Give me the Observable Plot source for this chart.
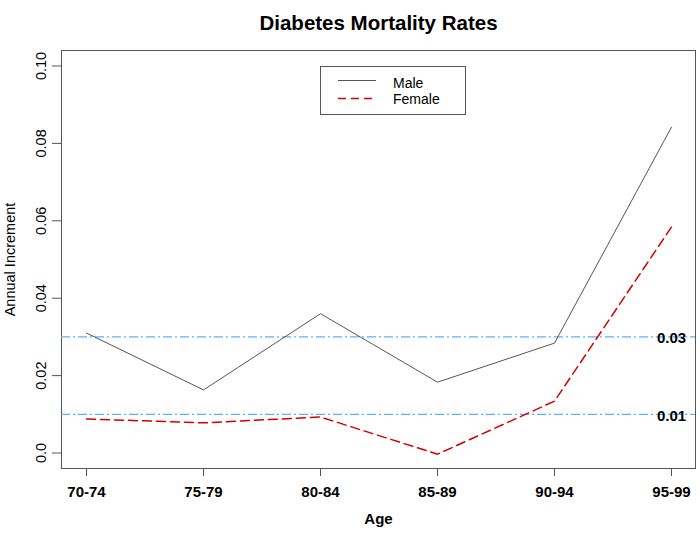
<!DOCTYPE html>
<html>
<head>
<meta charset="utf-8">
<script src="https://cdn.jsdelivr.net/npm/d3@7"></script>
<script src="https://cdn.jsdelivr.net/npm/@observablehq/plot@0.6"></script>
<style>
  html, body { margin: 0; padding: 0; background: #fff; }
  #wrap { position: relative; width: 700px; height: 536px; font-family: "Liberation Sans", Arial, sans-serif; }
  #legend { position: absolute; left: 320px; top: 66px; width: 144px; height: 47px; border: 1px solid #555; background: #fff; }
  #legend svg { position: absolute; left: 0; top: 0; }
  #legend span { position: absolute; left: 72px; font-size: 14px; color: #000; line-height: 16px; }
</style>
</head>
<body>
<div id="wrap"></div>
<script>
// Age groups and annual increment in diabetes mortality
const ages = ["70-74", "75-79", "80-84", "85-89", "90-94", "95-99"];
const male = [0.0310, 0.0163, 0.0360, 0.0183, 0.0284, 0.0842];
const female = [0.0088, 0.0078, 0.0093, -0.0003, 0.0134, 0.0584];
const yTicks = [0, 0.02, 0.04, 0.06, 0.08, 0.10];
const yTickLabels = ["0.0", "0.02", "0.04", "0.06", "0.08", "0.10"];
const refLevels = [0.03, 0.01];

const maleRows = ages.map((a, i) => ({age: a, value: male[i]}));
const femaleRows = ages.map((a, i) => ({age: a, value: female[i]}));

const chart = Plot.plot({
  width: 700,
  height: 536,
  marginTop: 50,
  marginBottom: 68,
  marginLeft: 61,
  marginRight: 5,
  style: {fontFamily: "'Liberation Sans', Arial, sans-serif", background: "#fff", color: "#000"},
  x: {type: "point", domain: ages, padding: 0.2, label: null},
  y: {domain: [-0.004, 0.104], label: null},
  marks: [
    Plot.frame({stroke: "#555"}),
    Plot.axisY(yTicks, {tickSize: 9, stroke: "#555", tickFormat: () => "", label: null}),
    Plot.text(yTicks, {y: d => d, text: (d, i) => yTickLabels[i], frameAnchor: "left", textAnchor: "middle", dx: -20.5, rotate: -90, fontSize: 14.5}),
    Plot.text(["Annual Increment"], {frameAnchor: "left", textAnchor: "middle", dx: -51, rotate: -90, fontSize: 14.5}),
    Plot.axisX(ages, {tickSize: 8, tickPadding: 10, stroke: "#555", fontSize: 15, fontWeight: "bold", label: null}),
    Plot.text(["Age"], {frameAnchor: "bottom", dy: 55, fontSize: 15, fontWeight: "bold"}),
    Plot.text(["Diabetes Mortality Rates"], {frameAnchor: "top", dy: -35, fontSize: 20.5, fontWeight: "bold"}),
    Plot.ruleY(refLevels, {stroke: "#5cb0ff", strokeWidth: 1.3, strokeDasharray: "9,3,2,3"}),
    Plot.text(refLevels, {x: () => ages[ages.length - 1], y: d => d, text: d => d.toFixed(2), dy: 1.5, fontSize: 15, fontWeight: "bold"}),
    Plot.line(maleRows, {x: "age", y: "value", stroke: "#555", strokeWidth: 1}),
    Plot.line(femaleRows, {x: "age", y: "value", stroke: "#d40000", strokeWidth: 1.5, strokeDasharray: "9,5"})
  ]
});
document.getElementById("wrap").appendChild(chart);

// Legend box
const legend = document.createElement("div");
legend.id = "legend";
legend.innerHTML = `
  <svg width="144" height="47">
    <line x1="17" x2="55" y1="13.5" y2="13.5" stroke="#555" stroke-width="1"></line>
    <line x1="17" x2="55" y1="31.5" y2="31.5" stroke="#d40000" stroke-width="1.5" stroke-dasharray="8,5"></line>
  </svg>
  <span style="top:8px">Male</span>
  <span style="top:24px">Female</span>`;
document.getElementById("wrap").appendChild(legend);
</script>
</body>
</html>
